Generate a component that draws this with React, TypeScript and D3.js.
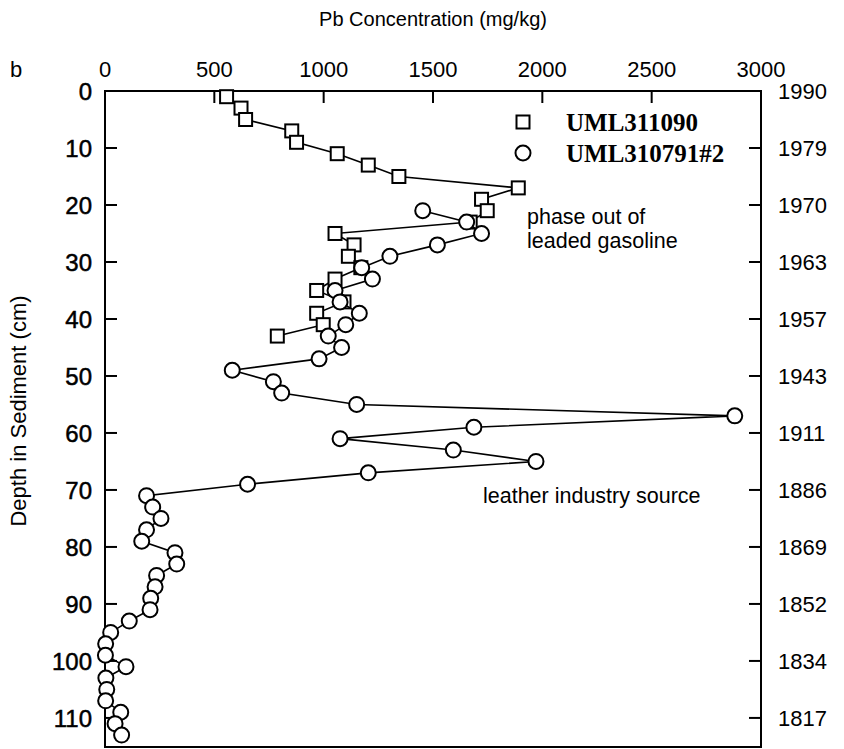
import React from "react";
import * as d3 from "d3";

// Pb concentration (mg/kg) vs depth (cm), two sediment cores
const sqDepth = [1, 3, 5, 7, 9, 11, 13, 15, 17, 19, 21, 23, 25, 27, 29, 31, 33, 35, 37, 39, 41, 43];
const sqPb = [556, 622, 643, 854, 876, 1062, 1204, 1344, 1890, 1722, 1748, 1670, 1052, 1139, 1113, 1170, 1052, 968, 1093, 968, 998, 788];

const ciDepth = [21, 23, 25, 27, 29, 31, 33, 35, 37, 39, 41, 43, 45, 47, 49, 51, 53, 55, 57, 59, 61, 63, 65, 67, 69,
  71, 73, 75, 77, 79, 81, 83, 85, 87, 89, 91, 93, 95, 97, 99, 101, 103, 105, 107, 109, 111, 113];
const ciPb = [1453, 1654, 1722, 1520, 1303, 1174, 1223, 1052, 1075, 1163, 1101, 1021, 1082, 979, 582, 770, 808, 1151, 2880, 1687, 1075, 1593, 1971, 1204, 652,
  190, 218, 256, 190, 168, 320, 328, 236, 229, 209, 206, 111, 26, 3, 2, 96, 4, 8, 3, 72, 46, 76];

const pbTicks = [0, 500, 1000, 1500, 2000, 2500, 3000];
const depthTicks = [0, 10, 20, 30, 40, 50, 60, 70, 80, 90, 100, 110];
const yearLabels = ["1990", "1979", "1970", "1963", "1957", "1943", "1911", "1886", "1869", "1852", "1834", "1817"];

const W = 844, H = 749;
const left = 105, right = 761, top = 91, bottom = 747;

export default function App() {
  const x = d3.scaleLinear().domain([0, 3000]).range([left, right]);
  const y = d3.scaleLinear().domain([0, 115.1]).range([top, bottom]);

  const sq = sqDepth.map((d, i) => ({ d, v: sqPb[i] }));
  const ci = ciDepth.map((d, i) => ({ d, v: ciPb[i] }));
  const line = d3.line<{ d: number; v: number }>().x(p => x(p.v)).y(p => y(p.d));

  const sans = "'Liberation Sans', Arial, sans-serif";
  const serif = "'Liberation Serif', 'Times New Roman', serif";
  const s = 6.5; // half side of square marker
  const r = 7.5;

  return (
    <svg width={W} height={H} style={{ position: "absolute", left: 0, top: 0, background: "#fff" }}>
      {/* titles */}
      <text x={433} y={26} textAnchor="middle" fontFamily={sans} fontSize={20}>Pb Concentration (mg/kg)</text>
      <text transform={`translate(26,${(top + bottom) / 2 - 8}) rotate(-90)`} textAnchor="middle" fontFamily={sans} fontSize={22}>
        Depth in Sediment (cm)
      </text>
      <text x={10} y={77} fontFamily={sans} fontSize={22}>b</text>

      {/* frame */}
      <rect x={left} y={top} width={right - left} height={bottom - top} fill="none" stroke="#000" strokeWidth={2} />

      {/* top axis */}
      {pbTicks.map(t => (
        <g key={"pt" + t}>
          <line x1={x(t)} x2={x(t)} y1={top} y2={top + 12} stroke="#000" strokeWidth={2} />
          <text x={x(t)} y={77} textAnchor="middle" fontFamily={sans} fontSize={22}>{t}</text>
        </g>
      ))}

      {/* left axis */}
      {depthTicks.map(t => (
        <g key={"dt" + t}>
          <line x1={left} x2={left + 12} y1={y(t)} y2={y(t)} stroke="#000" strokeWidth={2} />
          <text x={92} y={y(t)} dy="0.36em" textAnchor="end" fontFamily={sans} fontSize={24}
            stroke="#000" strokeWidth={0.5}>{t}</text>
        </g>
      ))}

      {/* right axis: years */}
      {depthTicks.map((t, i) => (
        <g key={"yt" + t}>
          <line x1={right - 12} x2={right} y1={y(t)} y2={y(t)} stroke="#000" strokeWidth={2} />
          <text x={778} y={y(t)} dy="0.36em" fontFamily={sans} fontSize={22}>{yearLabels[i]}</text>
        </g>
      ))}

      {/* series lines */}
      <path d={line(sq) ?? ""} fill="none" stroke="#000" strokeWidth={1.6} />
      {sq.map((p, i) => (
        <rect key={"s" + i} x={x(p.v) - s} y={y(p.d) - s} width={2 * s} height={2 * s} fill="#fff" stroke="#000" strokeWidth={2} />
      ))}
      <path d={line(ci) ?? ""} fill="none" stroke="#000" strokeWidth={1.6} />
      {ci.map((p, i) => (
        <circle key={"c" + i} cx={x(p.v)} cy={y(p.d)} r={r} fill="#fff" stroke="#000" strokeWidth={2} />
      ))}

      {/* legend */}
      <rect x={523 - s} y={122 - s} width={2 * s} height={2 * s} fill="#fff" stroke="#000" strokeWidth={2} />
      <text x={566} y={131} fontFamily={serif} fontWeight="bold" fontSize={25}>UML311090</text>
      <circle cx={523} cy={153} r={r} fill="#fff" stroke="#000" strokeWidth={2} />
      <text x={566} y={162} fontFamily={serif} fontWeight="bold" fontSize={25}>UML310791#2</text>

      {/* annotations */}
      <text x={527} y={224} fontFamily={sans} fontSize={21.5}>phase out of</text>
      <text x={527} y={248} fontFamily={sans} fontSize={21.5}>leaded gasoline</text>
      <text x={483} y={503} fontFamily={sans} fontSize={21.5}>leather industry source</text>
    </svg>
  );
}
